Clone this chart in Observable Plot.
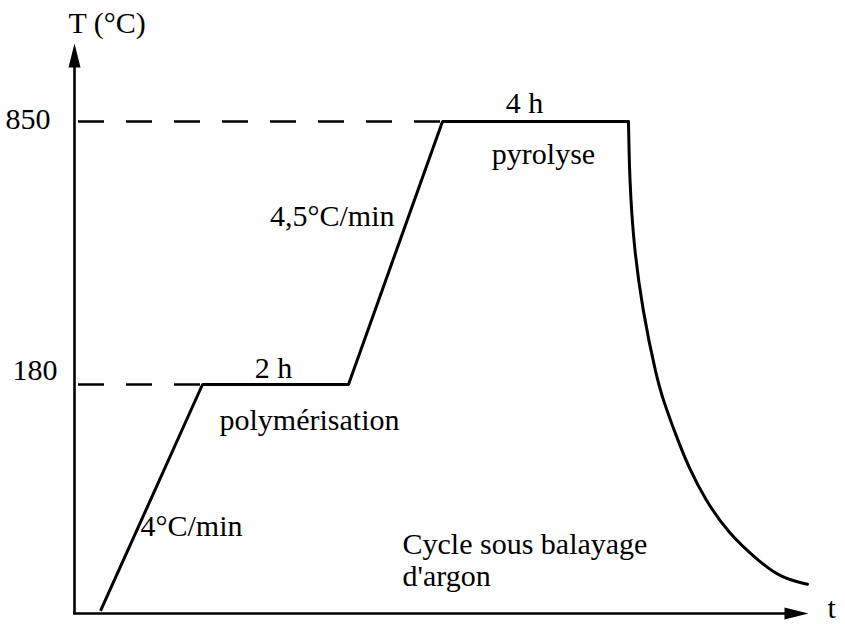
<!DOCTYPE html>
<html>
<head>
<meta charset="utf-8">
<script src="https://cdn.jsdelivr.net/npm/d3@7"></script>
<script src="https://cdn.jsdelivr.net/npm/@observablehq/plot@0.6"></script>
<style>
  body { margin: 0; background: #fff; }
  svg { overflow: visible; }
</style>
</head>
<body>
<div id="chart"></div>
<script>
// Schematic thermal cycle (time in arbitrary schematic units, temperature in °C)
const heatingTime = [26, 128, 274, 368, 554];
const heatingTemp = [2, 180, 180, 850, 850];
const coolingTime = [554, 555, 559, 568, 582, 589, 601, 614, 631, 654, 683, 706, 733];
const coolingTemp = [850, 707, 539, 369, 198, 167, 141, 115, 89, 63, 42, 28, 23];
const tickValues = [850, 180];
const tickLabels = ["850", "180"];
const plateauStart = [128, 368];
const plateauEnd = [274, 554];
const plateauTemp = [180, 850];
const plateauDurations = ["2 h", "4 h"];
const plateauNames = ["polymérisation", "pyrolyse"];
const rampRates = ["4°C/min", "4,5°C/min"];
const noteLines = ["Cycle sous balayage", "d'argon"];

const heating = heatingTime.map((t, i) => ({t, T: heatingTemp[i]}));
const cooling = coolingTime.map((t, i) => ({t, T: coolingTemp[i]}));
const plateaus = plateauTemp.map((T, i) => ({T, t1: plateauStart[i], t2: plateauEnd[i], tm: (plateauStart[i] + plateauEnd[i]) / 2, dur: plateauDurations[i], name: plateauNames[i]}));
const ticks = tickValues.map((v, i) => ({T: v, label: tickLabels[i]}));
const ramps = [
  {t: (heatingTime[0] + heatingTime[1]) / 2, T: (heatingTemp[0] + heatingTemp[1]) / 2, label: rampRates[0]},
  {t: (heatingTime[2] + heatingTime[3]) / 2, T: (heatingTemp[2] + heatingTemp[3]) / 2, label: rampRates[1]}
];

// schematic (broken) temperature axis: piecewise-linear warp applied by the y scale
const Ttop = 1050, tmax = 734;
const warp = d3.scaleLinear().domain([0, 180, 850, Ttop]).range([0, 229, 492, 570]);

const arrowHead = {
  draw(context) {
    context.moveTo(0, 0);
    context.lineTo(6, 24);
    context.lineTo(-6, 24);
    context.closePath();
  }
};

const font = "Liberation Serif, Times New Roman, serif";
const fs = 30;

const chart = Plot.plot({
  width: 845,
  height: 624,
  margin: 0,
  style: {fontFamily: font, fontSize: fs + "px", background: "#fff", color: "#000"},
  x: {domain: [0, tmax], range: [74, 808], axis: null},
  y: {transform: warp, domain: [0, 570], range: [613, 43], axis: null},
  marks: [
    // axes
    Plot.ruleX([0], {y1: 0, y2: 1000, stroke: "#000", strokeWidth: 2.6}),
    Plot.ruleY([0], {x1: -1, x2: tmax - 20, stroke: "#000", strokeWidth: 2.4}),
    Plot.dot([{t: 0, T: Ttop}], {x: "t", y: "T", symbol: arrowHead, r: 5, fill: "#000", stroke: "none"}),
    Plot.dot([{t: tmax, T: 0}], {x: "t", y: "T", symbol: arrowHead, r: 5, rotate: 90, fill: "#000", stroke: "none"}),
    // dashed reference lines
    Plot.ruleY(plateaus, {y: "T", x1: 4, x2: "t1", stroke: "#000", strokeWidth: 2.5, strokeDasharray: "26,22"}),
    // cycle
    Plot.line(heating, {x: "t", y: "T", stroke: "#000", strokeWidth: 3, strokeLinejoin: "miter", strokeLinecap: "butt"}),
    Plot.line(cooling, {x: "t", y: "T", stroke: "#000", strokeWidth: 3, curve: "basis"}),
    // tick labels
    Plot.text(ticks.filter(d => d.T === 850), {x: 0, y: "T", text: "label", textAnchor: "end", lineAnchor: "bottom", dx: -24, dy: 7, fontSize: fs, fill: "#000"}),
    Plot.text(ticks.filter(d => d.T === 180), {x: 0, y: "T", text: "label", textAnchor: "end", lineAnchor: "bottom", dx: -17, dy: -5, fontSize: fs, fill: "#000"}),
    // axis titles
    Plot.text(["T (°C)"], {x: 0, y: Ttop, text: d => d, textAnchor: "start", lineAnchor: "bottom", dx: -6, dy: -11, fontSize: fs, fill: "#000"}),
    Plot.text(["t"], {x: tmax, y: 0, text: d => d, textAnchor: "start", lineAnchor: "bottom", dx: 19, dy: 4, fontSize: fs, fill: "#000"}),
    // plateau labels
    Plot.text(plateaus.filter(d => d.T === 180), {x: "tm", y: "T", text: "dur", lineAnchor: "bottom", dx: -2, dy: -7, fontSize: fs, fill: "#000"}),
    Plot.text(plateaus.filter(d => d.T === 180), {x: "tm", y: "T", text: "name", lineAnchor: "bottom", dx: 34, dy: 45, fontSize: fs, fill: "#000"}),
    Plot.text(plateaus.filter(d => d.T === 850), {x: "tm", y: "T", text: "dur", lineAnchor: "bottom", dx: -11, dy: -9, fontSize: fs, fill: "#000"}),
    Plot.text(plateaus.filter(d => d.T === 850), {x: "tm", y: "T", text: "name", lineAnchor: "bottom", dx: 8, dy: 42, fontSize: fs, fill: "#000"}),
    // ramp labels
    Plot.text([ramps[0]], {x: "t", y: "T", text: "label", textAnchor: "start", lineAnchor: "bottom", dx: -11, dy: 38, fontSize: fs, fill: "#000"}),
    Plot.text([ramps[1]], {x: "t", y: "T", text: "label", textAnchor: "end", lineAnchor: "bottom", dx: -1, dy: -27, fontSize: fs, fill: "#000"}),
    // note
    Plot.text([noteLines[0]], {x: 328, y: 0, text: d => d, textAnchor: "start", lineAnchor: "bottom", dy: -60, fontSize: fs, fill: "#000"}),
    Plot.text([noteLines[1]], {x: 328, y: 0, text: d => d, textAnchor: "start", lineAnchor: "bottom", dy: -28, fontSize: fs, fill: "#000"})
  ]
});
document.getElementById("chart").appendChild(chart);
</script>
</body>
</html>
